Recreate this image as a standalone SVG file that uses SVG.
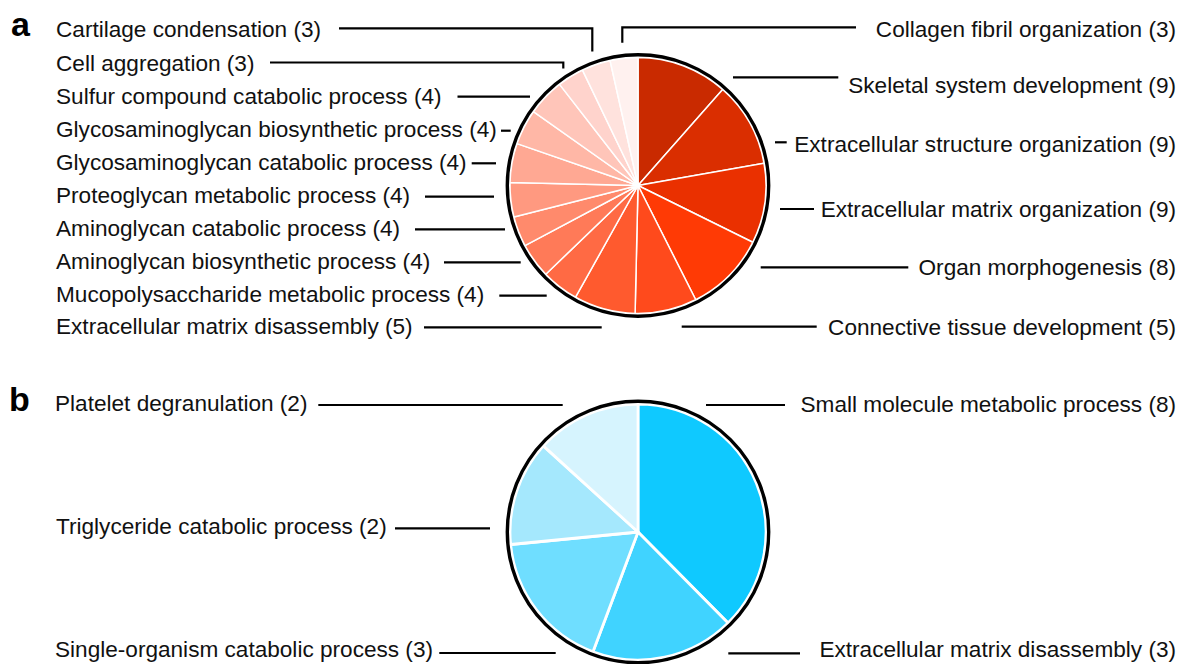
<svg xmlns="http://www.w3.org/2000/svg" width="1180" height="664" viewBox="0 0 1180 664">
<style>
text{font-family:"Liberation Sans",Arial,Helvetica,sans-serif;font-size:22.6px;fill:#111}
.r{text-anchor:end}
.panel{font-weight:bold;font-size:34px;fill:#000}
.sa path{stroke:#fff;stroke-width:1.5;stroke-linejoin:round}
.sb path{stroke:#fff;stroke-width:2.8;stroke-linejoin:round}
.ring{fill:none;stroke:#000;stroke-width:3.4}
.lead{fill:none;stroke:#000;stroke-width:2.2}
</style>
<rect width="1180" height="664" fill="#fff"/>
<text class="panel" x="11" y="36">a</text>
<text class="panel" x="9" y="410.5">b</text>

<g id="pie-a" class="sa">
<g id="a-skeletal"><path d="M638,185.5 L638,57.5 A128,128 0 0 1 722.65,89.49 Z" fill="#C92A00"/></g>
<g id="a-ecs-org"><path d="M638,185.5 L722.65,89.49 A128,128 0 0 1 764.05,163.27 Z" fill="#DA2E00"/></g>
<g id="a-ecm-org"><path d="M638,185.5 L764.05,163.27 A128,128 0 0 1 752.75,242.22 Z" fill="#EA3000"/></g>
<g id="a-organ"><path d="M638,185.5 L752.75,242.22 A128,128 0 0 1 695.72,299.75 Z" fill="#FF3A05"/></g>
<g id="a-connective"><path d="M638,185.5 L695.72,299.75 A128,128 0 0 1 635.10,313.47 Z" fill="#FF4A1C"/></g>
<g id="a-ecm-dis"><path d="M638,185.5 L635.10,313.47 A128,128 0 0 1 575.55,297.23 Z" fill="#FF5A2E"/></g>
<g id="a-muco"><path d="M638,185.5 L575.55,297.23 A128,128 0 0 1 545.76,274.26 Z" fill="#FF6A44"/></g>
<g id="a-amino-bio"><path d="M638,185.5 L545.76,274.26 A128,128 0 0 1 524.99,245.59 Z" fill="#FF7A58"/></g>
<g id="a-amino-cat"><path d="M638,185.5 L524.99,245.59 A128,128 0 0 1 513.92,216.90 Z" fill="#FF8A6C"/></g>
<g id="a-proteo"><path d="M638,185.5 L513.92,216.90 A128,128 0 0 1 510.04,182.59 Z" fill="#FF9980"/></g>
<g id="a-glyco-cat"><path d="M638,185.5 L510.04,182.59 A128,128 0 0 1 517.05,143.62 Z" fill="#FFA893"/></g>
<g id="a-glyco-bio"><path d="M638,185.5 L517.05,143.62 A128,128 0 0 1 533.41,111.72 Z" fill="#FFB7A6"/></g>
<g id="a-sulfur"><path d="M638,185.5 L533.41,111.72 A128,128 0 0 1 559.55,84.35 Z" fill="#FFC5B9"/></g>
<g id="a-cell-agg"><path d="M638,185.5 L559.55,84.35 A128,128 0 0 1 582.49,70.16 Z" fill="#FFD3CC"/></g>
<g id="a-cartilage"><path d="M638,185.5 L582.49,70.16 A128,128 0 0 1 610.08,60.58 Z" fill="#FFE2DD"/></g>
<g id="a-collagen"><path d="M638,185.5 L610.08,60.58 A128,128 0 0 1 638,57.5 Z" fill="#FFF1EF"/></g>
<circle class="ring" cx="638" cy="185.5" r="130.7"/>
</g>

<g id="pie-b" class="sb">
<g id="b-small-mol"><path d="M638,532 L638,404 A128,128 0 0 1 728.04,622.98 Z" fill="#0FC9FF"/></g>
<g id="b-ecm-dis"><path d="M638,532 L728.04,622.98 A128,128 0 0 1 592.97,651.82 Z" fill="#40D3FF"/></g>
<g id="b-single-org"><path d="M638,532 L592.97,651.82 A128,128 0 0 1 510.61,544.49 Z" fill="#6FDEFF"/></g>
<g id="b-triglyceride"><path d="M638,532 L510.61,544.49 A128,128 0 0 1 543.33,445.86 Z" fill="#A5E8FD"/></g>
<g id="b-platelet"><path d="M638,532 L543.33,445.86 A128,128 0 0 1 638,404 Z" fill="#D6F4FE"/></g>
<circle class="ring" cx="638" cy="532" r="130.7"/>
</g>

<g id="connectors" class="lead">
<path d="M339,28.3 H592.3 V51.5"/>
<path d="M270,62.5 H563.3 V68.5"/>
<path d="M457.5,96.7 H530"/>
<path d="M501,130.7 H510.7"/>
<path d="M471.7,163.3 H496"/>
<path d="M425,196.7 H494"/>
<path d="M415,229.3 H505"/>
<path d="M444,262.3 H520.7"/>
<path d="M499.3,295.7 H546.7"/>
<path d="M424,327.3 H601.7"/>
<path d="M622.3,42.7 V27.3 H856"/>
<path d="M733,77.3 H838.3"/>
<path d="M775,142.3 H786.7"/>
<path d="M780,209 H814"/>
<path d="M760.7,267.3 H908.3"/>
<path d="M681.7,326.7 H816.7"/>
<path d="M318.3,405 H562.7"/>
<path d="M395,528.3 H490"/>
<path d="M439.3,653 H555.7"/>
<path d="M706,405 H785"/>
<path d="M728.3,653.3 H800"/>
</g>

<g id="labels-a-left">
<g id="l-cartilage"><text x="56" y="37">Cartilage condensation (3)</text></g>
<g id="l-cell-agg"><text x="56" y="70.5">Cell aggregation (3)</text></g>
<g id="l-sulfur"><text x="56" y="103.5">Sulfur compound catabolic process (4)</text></g>
<g id="l-glyco-bio"><text x="56" y="136.5">Glycosaminoglycan biosynthetic process (4)</text></g>
<g id="l-glyco-cat"><text x="56" y="169.5">Glycosaminoglycan catabolic process (4)</text></g>
<g id="l-proteo"><text x="56" y="202.5">Proteoglycan metabolic process (4)</text></g>
<g id="l-amino-cat"><text x="56" y="235.5">Aminoglycan catabolic process (4)</text></g>
<g id="l-amino-bio"><text x="56" y="268.5">Aminoglycan biosynthetic process (4)</text></g>
<g id="l-muco"><text x="56" y="301.5">Mucopolysaccharide metabolic process (4)</text></g>
<g id="l-ecm-dis-a"><text x="56" y="334">Extracellular matrix disassembly (5)</text></g>
</g>
<g id="labels-a-right">
<g id="l-collagen"><text class="r" x="1176" y="37">Collagen fibril organization (3)</text></g>
<g id="l-skeletal"><text class="r" x="1176" y="92.7">Skeletal system development (9)</text></g>
<g id="l-ecs-org"><text class="r" x="1176" y="151.7">Extracellular structure organization (9)</text></g>
<g id="l-ecm-org"><text class="r" x="1176" y="216.7">Extracellular matrix organization (9)</text></g>
<g id="l-organ"><text class="r" x="1176" y="275">Organ morphogenesis (8)</text></g>
<g id="l-connective"><text class="r" x="1176" y="335">Connective tissue development (5)</text></g>
</g>
<g id="labels-b">
<g id="l-platelet"><text x="55" y="411">Platelet degranulation (2)</text></g>
<g id="l-triglyceride"><text x="56" y="534">Triglyceride catabolic process (2)</text></g>
<g id="l-single-org"><text x="55" y="657">Single-organism catabolic process (3)</text></g>
<g id="l-small-mol"><text class="r" x="1176" y="411.5">Small molecule metabolic process (8)</text></g>
<g id="l-ecm-dis-b"><text class="r" x="1176" y="657">Extracellular matrix disassembly (3)</text></g>
</g>
</svg>
